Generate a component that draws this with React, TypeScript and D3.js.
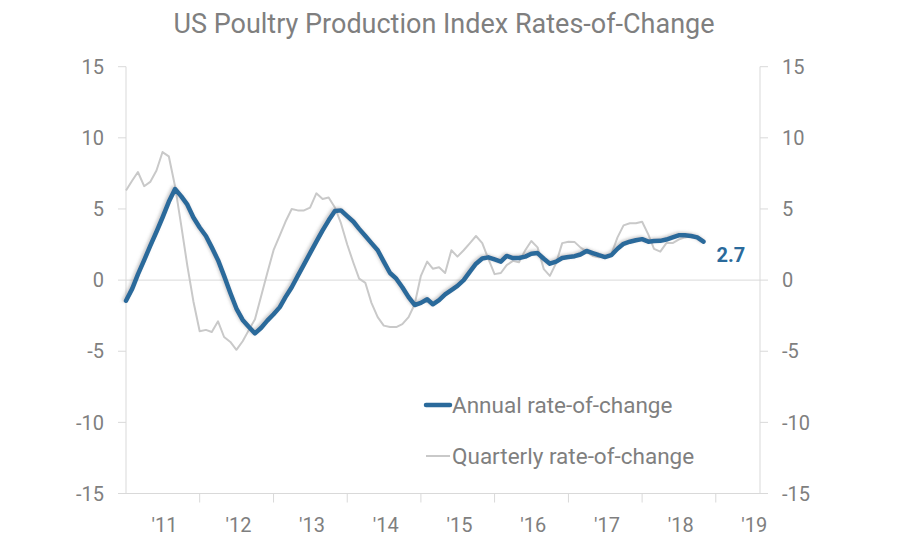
import React from "react";
import * as d3 from "d3";

// monthly values, Jan 2011 .. Nov 2018
const annualRoc = [
  -1.45, -0.6, 0.4, 1.4, 2.4, 3.4, 4.4, 5.5, 6.4, 5.9, 5.3, 4.4,
  3.7, 3.1, 2.3, 1.4, 0.3, -0.9, -2.0, -2.8, -3.3, -3.75, -3.35, -2.85,
  -2.4, -1.9, -1.2, -0.5, 0.3, 1.1, 1.9, 2.7, 3.5, 4.2, 4.85, 4.9,
  4.5, 4.1, 3.6, 3.1, 2.6, 2.1, 1.3, 0.5, 0.1, -0.5, -1.2, -1.75,
  -1.6, -1.35, -1.7, -1.4, -1.0, -0.7, -0.4, 0.0, 0.6, 1.15, 1.52, 1.6,
  1.45, 1.3, 1.7, 1.55, 1.55, 1.65, 1.85, 1.9, 1.5, 1.15, 1.3, 1.55,
  1.62, 1.68, 1.8, 2.05, 1.9, 1.75, 1.62, 1.75, 2.2, 2.55, 2.7, 2.8,
  2.88, 2.7, 2.75, 2.76, 2.85, 3.0, 3.15, 3.15, 3.1, 3.0, 2.7,
];

const quarterlyRoc = [
  6.3, 7.0, 7.6, 6.6, 6.9, 7.7, 9.0, 8.7, 6.6, 3.9, 1.0, -1.5,
  -3.6, -3.5, -3.65, -2.9, -4.0, -4.35, -4.9, -4.3, -3.5, -2.75, -1.1, 0.5,
  2.1, 3.15, 4.1, 5.0, 4.9, 4.9, 5.1, 6.1, 5.7, 5.8, 5.1, 4.0,
  2.5, 1.2, 0.1, -0.2, -1.6, -2.6, -3.2, -3.3, -3.3, -3.1, -2.6, -1.7,
  0.3, 1.3, 0.8, 0.9, 0.5, 2.1, 1.65, 2.1, 2.6, 3.1, 2.6, 1.5,
  0.42, 0.5, 1.05, 1.35, 1.25, 2.1, 2.75, 2.3, 0.77, 0.3, 1.2, 2.6,
  2.7, 2.67, 2.3, 2.0, 1.7, 1.6, 1.65, 1.8, 3.0, 3.85, 4.0, 4.0,
  4.1, 3.2, 2.2, 2.0, 2.6, 2.6, 2.85, 3.0, 3.1, 3.1, 2.76,
];

const years = [2011, 2012, 2013, 2014, 2015, 2016, 2017, 2018, 2019];
const yTicks = [-15, -10, -5, 0, 5, 10, 15];
const lastLabel = "2.7";

const TEXT = "#7f7f7f";
const AXIS = "#d9d9d9";
const BLUE = "#2a6a9b";
const GRAY = "#c9c9c9";
const FONT = "Roboto, 'Noto Sans', sans-serif";

export default function App() {
  const left = 126;
  const right = 760;
  const top = 66.7;
  const bottom = 493.5;

  const x = d3
    .scaleTime()
    .domain([new Date(2011, 0, 1), new Date(2019, 7, 8)])
    .range([left, right]);
  const y = d3.scaleLinear().domain([-15, 15]).range([bottom, top]);

  const monthDate = (i: number) => new Date(2011, i, 1);

  const line = d3
    .line<number>()
    .x((_, i) => x(monthDate(i)))
    .y((d) => y(d));

  const lastIdx = annualRoc.length - 1;

  return (
    <svg
      width={900}
      height={550}
      style={{ position: "absolute", left: 0, top: 0, background: "#fff" }}
      fontFamily={FONT}
    >
      <defs>
        <filter id="soft" x="-5%" y="-5%" width="110%" height="110%">
          <feDropShadow dx="-1.5" dy="-1" stdDeviation="1.8" floodColor="#888" floodOpacity="0.45" />
        </filter>
      </defs>

      <text x={444} y={33} textAnchor="middle" fontSize={27} fill={TEXT}>
        US Poultry Production Index Rates-of-Change
      </text>

      {/* axes */}
      <line x1={left} x2={left} y1={top} y2={bottom} stroke={AXIS} />
      <line x1={right} x2={right} y1={top} y2={bottom} stroke={AXIS} />
      <line x1={left} x2={right} y1={bottom} y2={bottom} stroke={AXIS} />
      <line x1={left} x2={right} y1={y(0)} y2={y(0)} stroke={AXIS} />

      {yTicks.map((t) => (
        <g key={t}>
          <line x1={left - 8} x2={left} y1={y(t)} y2={y(t)} stroke={AXIS} />
          <line x1={right} x2={right + 8} y1={y(t)} y2={y(t)} stroke={AXIS} />
          <text x={104} y={y(t)} dy="0.36em" textAnchor="end" fontSize={20} fill={TEXT}>
            {t}
          </text>
          <text x={782} y={y(t)} dy="0.36em" textAnchor="start" fontSize={20} fill={TEXT}>
            {t}
          </text>
        </g>
      ))}

      {years.map((yr) => (
        <g key={yr}>
          {yr > 2011 && (
            <line
              x1={x(new Date(yr, 0, 1))}
              x2={x(new Date(yr, 0, 1))}
              y1={bottom}
              y2={bottom + 9}
              stroke={AXIS}
            />
          )}
          <text
            x={x(new Date(yr, 6, 1)) + 2}
            y={532}
            textAnchor="middle"
            fontSize={20}
            fill={TEXT}
          >
            {"'" + String(yr).slice(2)}
          </text>
        </g>
      ))}

      {/* series */}
      <path d={line(quarterlyRoc) ?? ""} fill="none" stroke={GRAY} strokeWidth={2} strokeLinejoin="round" />
      <path
        d={line(annualRoc) ?? ""}
        fill="none"
        stroke={BLUE}
        strokeWidth={4.5}
        strokeLinejoin="round"
        strokeLinecap="round"
        filter="url(#soft)"
      />

      <text
        x={x(monthDate(lastIdx)) + 13}
        y={y(annualRoc[lastIdx]) + 20}
        fontSize={20}
        fontWeight="bold"
        fill={BLUE}
      >
        {lastLabel}
      </text>

      {/* legend */}
      <line x1={426} x2={450} y1={405} y2={405} stroke={BLUE} strokeWidth={4.5} strokeLinecap="round" />
      <text x={452} y={412.7} fontSize={22.5} fill={TEXT}>
        Annual rate-of-change
      </text>
      <line x1={426} x2={450} y1={456} y2={456} stroke={GRAY} strokeWidth={2} />
      <text x={452} y={463.7} fontSize={22.5} fill={TEXT}>
        Quarterly rate-of-change
      </text>
    </svg>
  );
}
